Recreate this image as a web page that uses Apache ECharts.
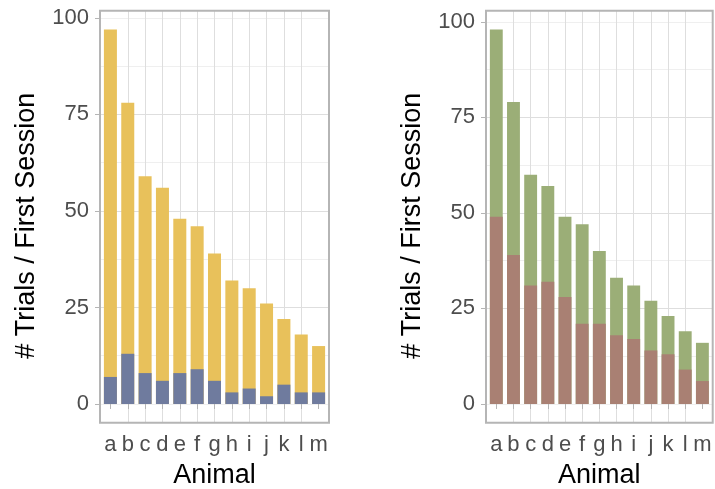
<!DOCTYPE html>
<html>
<head>
<meta charset="utf-8">
<script src="https://cdn.jsdelivr.net/npm/echarts@6/dist/echarts.min.js"></script>
<style>
  html, body { margin: 0; padding: 0; background: #fff; }
  #chart { width: 715px; height: 489px; }
</style>
</head>
<body>
<div id="chart"></div>
<script>
// data
const categories = ['a', 'b', 'c', 'd', 'e', 'f', 'g', 'h', 'i', 'j', 'k', 'l', 'm'];
const leftTotal = [97, 78, 59, 56, 48, 46, 39, 32, 30, 26, 22, 18, 15];
const leftPart = [7, 13, 8, 6, 8, 9, 6, 3, 4, 2, 5, 3, 3];
const rightTotal = [98, 79, 60, 57, 49, 47, 40, 33, 31, 27, 23, 19, 16];
const rightPart = [49, 39, 31, 32, 28, 21, 21, 18, 17, 14, 13, 9, 6];
const yTicks = [0, 25, 50, 75, 100];

const font = 'Liberation Sans';
const xPos = categories.map((c, i) => i + 1);

function toPoints(values) {
    return values.map((v, i) => [i + 1, v]);
}

// ggplot like panel: 5% expansion on y, 0.6 on a discrete x
function panel(idx, left, width, total, part, colTotal, colPart) {
    let maxV = Math.max(...total);
    let yMin = -0.05 * maxV;
    let yMax = maxV * 1.05;
    let barW = 0.75 * width / (categories.length + 0.2);

    let grid = {
        left: left, top: 10.7, width: width, height: 412,
        outerBoundsMode: 'none', containLabel: false,
        show: true, borderColor: '#b5b5b5', borderWidth: 2, z: 5
    };
    let xAxis = {
        gridIndex: idx, type: 'value', min: 0.4, max: categories.length + 0.6,
        minInterval: 1, maxInterval: 1,
        name: 'Animal', nameLocation: 'middle', nameGap: 39,
        nameTextStyle: {fontFamily: font, fontSize: 27, color: '#000'},
        axisLine: {show: false},
        axisTick: {show: true, length: 5, customValues: xPos, lineStyle: {color: '#b5b5b5', width: 1}},
        axisLabel: {
            customValues: xPos, margin: 11, fontFamily: font, fontSize: 22, color: '#4d4d4d',
            formatter: v => categories[v - 1] || ''
        },
        splitLine: {show: true, showMinLine: false, showMaxLine: false, lineStyle: {color: '#dedede', width: 1}}
    };
    let yMajor = {
        gridIndex: idx, type: 'value', min: yMin, max: yMax,
        minInterval: 25, maxInterval: 25, z: 1,
        name: '# Trials / First Session', nameLocation: 'middle', nameGap: 60,
        nameTextStyle: {fontFamily: font, fontSize: 27, color: '#000', padding: [0, 18, 0, 0]},
        axisLine: {show: false},
        axisTick: {show: true, length: 5, customValues: yTicks, lineStyle: {color: '#b5b5b5', width: 1}},
        axisLabel: {customValues: yTicks, margin: 11, fontFamily: font, fontSize: 22, color: '#4d4d4d'},
        splitLine: {show: true, showMinLine: false, showMaxLine: false, lineStyle: {color: '#dedede', width: 1}}
    };
    let yMinor = {
        gridIndex: idx, type: 'value', min: yMin, max: yMax,
        minInterval: 12.5, maxInterval: 12.5, z: 0,
        axisLine: {show: false}, axisTick: {show: false}, axisLabel: {show: false},
        splitLine: {show: true, showMinLine: false, showMaxLine: false, lineStyle: {color: '#efefef', width: 1}}
    };
    let series = [
        {
            type: 'bar', xAxisIndex: idx, yAxisIndex: idx * 2, data: toPoints(total),
            barWidth: barW, barGap: '-100%', itemStyle: {color: colTotal}, silent: true
        },
        {
            type: 'bar', xAxisIndex: idx, yAxisIndex: idx * 2, data: toPoints(part),
            barWidth: barW, barGap: '-100%', itemStyle: {color: colPart}, silent: true
        }
    ];
    return {grid, xAxis, yAxes: [yMajor, yMinor], series};
}

let p1 = panel(0, 100, 229, leftTotal, leftPart, '#e8c15b', '#6f7b9e');
let p2 = panel(1, 486, 226.7, rightTotal, rightPart, '#9bae77', '#a98073');

let myChart = echarts.init(document.getElementById('chart'));
myChart.setOption({
    animation: false,
    backgroundColor: '#fff',
    grid: [p1.grid, p2.grid],
    xAxis: [p1.xAxis, p2.xAxis],
    yAxis: [...p1.yAxes, ...p2.yAxes],
    series: [...p1.series, ...p2.series]
});
</script>
</body>
</html>
